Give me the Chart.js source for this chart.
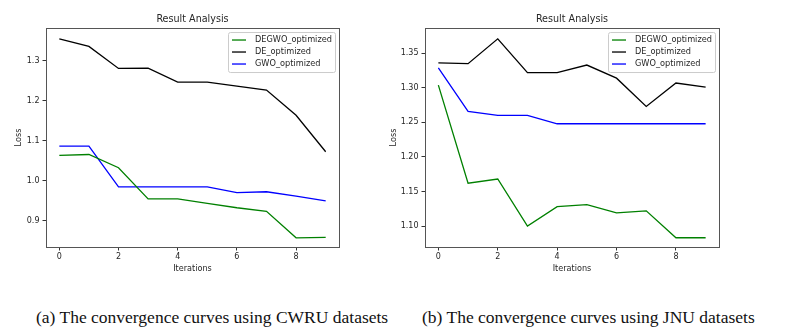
<!DOCTYPE html>
<html>
<head>
<meta charset="utf-8">
<script src="https://cdn.jsdelivr.net/npm/chart.js@4.4.0/dist/chart.umd.min.js"></script>
<style>
  body { margin: 0; background: #fff; width: 792px; height: 336px; position: relative; overflow: hidden; }
  .box { position: absolute; top: 0; height: 280px; }
  .caption { position: absolute; top: 307px; font-family: "Liberation Serif", "Times New Roman", serif; font-size: 17.5px; line-height: 20px; color: #111; white-space: nowrap; }
</style>
</head>
<body>
<div class="box" style="left:0;width:385px"><canvas id="chartA" width="385" height="280"></canvas></div>
<div class="box" style="left:385px;width:407px"><canvas id="chartB" width="407" height="280"></canvas></div>
<div class="caption" style="left:36px">(a) The convergence curves using CWRU datasets</div>
<div class="caption" style="left:422px">(b) The convergence curves using JNU datasets</div>
<script>
// data
const iterations = [0, 1, 2, 3, 4, 5, 6, 7, 8, 9]
const seriesNames = ['DEGWO_optimized', 'DE_optimized', 'GWO_optimized']
const seriesColors = ['#008000', '#000000', '#0000ff']

// (a) CWRU
const cwruDEGWO = [1.064, 1.066, 1.033, 0.955, 0.955, 0.944, 0.933, 0.924, 0.858, 0.859]
const cwruDE = [1.355, 1.336, 1.281, 1.282, 1.247, 1.247, 1.237, 1.227, 1.164, 1.073]
const cwruGWO = [1.087, 1.087, 0.985, 0.985, 0.985, 0.985, 0.971, 0.973, 0.962, 0.950]
const cwruYTicks = [0.9, 1.0, 1.1, 1.2, 1.3]

// (b) JNU
const jnuDEGWO = [1.304, 1.162, 1.168, 1.100, 1.128, 1.131, 1.119, 1.122, 1.083, 1.083]
const jnuDE = [1.336, 1.335, 1.371, 1.322, 1.322, 1.333, 1.314, 1.273, 1.307, 1.301]
const jnuGWO = [1.329, 1.266, 1.260, 1.260, 1.248, 1.248, 1.248, 1.248, 1.248, 1.248]
const jnuYTicks = [1.10, 1.15, 1.20, 1.25, 1.30, 1.35]

const xTicks = [0, 2, 4, 6, 8]

const FONT = "'DejaVu Sans', sans-serif"
const TEXT = '#262626'

// frame round the plot area, like matplotlib spines
const framePlugin = {
    id: 'frame',
    afterDatasetsDraw(chart) {
        const a = chart.chartArea
        const ctx = chart.ctx
        ctx.save()
        ctx.strokeStyle = '#555'
        ctx.lineWidth = 1
        ctx.strokeRect(Math.round(a.left) + 0.5, Math.round(a.top) + 0.5, Math.round(a.right - a.left), Math.round(a.bottom - a.top))
        ctx.restore()
    }
}

// legend drawn inside the plot, top right
const innerLegend = {
    id: 'innerLegend',
    afterDraw(chart) {
        const a = chart.chartArea
        const ctx = chart.ctx
        const w = 107, h = 40
        const x = a.right - 4 - w, y = a.top + 4
        ctx.save()
        ctx.fillStyle = 'rgba(255,255,255,0.85)'
        ctx.strokeStyle = '#ccc'
        ctx.lineWidth = 1
        ctx.beginPath()
        ctx.roundRect(x + 0.5, y + 0.5, w, h, 2)
        ctx.fill()
        ctx.stroke()
        ctx.font = "8.2px " + FONT
        ctx.textBaseline = 'middle'
        chart.data.datasets.forEach((ds, i) => {
            const ry = y + 8 + i * 12
            ctx.strokeStyle = ds.borderColor
            ctx.lineWidth = 1.3
            ctx.beginPath()
            ctx.moveTo(x + 4, ry)
            ctx.lineTo(x + 18, ry)
            ctx.stroke()
            ctx.fillStyle = TEXT
            ctx.fillText(ds.label, x + 27, ry)
        })
        ctx.restore()
    }
}

function makeChart (canvasId, seriesList, yTicks, yMin, yMax, yWidth, yTitlePad, padRight, decimals) {
    const datasets = seriesList.map((values, i) => ({
        label: seriesNames[i],
        data: values.map((v, k) => ({x: iterations[k], y: v})),
        borderColor: seriesColors[i],
        backgroundColor: seriesColors[i],
        borderWidth: 1.3,
        pointRadius: 0,
        tension: 0,
        fill: false
    }))
    new Chart(document.getElementById(canvasId), {
        type: 'line',
        data: {datasets: datasets},
        options: {
            responsive: false,
            animation: false,
            layout: {padding: {left: 0, right: padRight, top: 0, bottom: 0}},
            plugins: {
                legend: {display: false},
                tooltip: {enabled: false},
                title: {
                    display: true,
                    text: 'Result Analysis',
                    fullSize: false,
                    color: TEXT,
                    font: {family: FONT, size: 9.6, weight: 'normal'},
                    padding: {top: 14, bottom: 2.5}
                }
            },
            scales: {
                x: {
                    type: 'linear',
                    min: -0.45,
                    max: 9.45,
                    afterBuildTicks: (scale) => { scale.ticks = xTicks.map(v => ({value: v})) },
                    afterFit: (scale) => { scale.height = 33 },
                    grid: {display: true, drawOnChartArea: false, drawTicks: true, tickLength: 3.5, color: '#333'},
                    border: {display: true, color: '#555'},
                    ticks: {color: TEXT, font: {family: FONT, size: 8}, padding: 2, maxRotation: 0},
                    title: {display: true, text: 'Iterations', color: TEXT, font: {family: FONT, size: 8.1}, padding: {top: 0, bottom: 6}}
                },
                y: {
                    min: yMin,
                    max: yMax,
                    afterBuildTicks: (scale) => { scale.ticks = yTicks.map(v => ({value: v})) },
                    afterFit: (scale) => { scale.width = yWidth },
                    grid: {display: true, drawOnChartArea: false, drawTicks: true, tickLength: 3.5, color: '#333'},
                    border: {display: true, color: '#555'},
                    ticks: {color: TEXT, font: {family: FONT, size: 8}, padding: 3, callback: (v) => v.toFixed(decimals)},
                    title: {display: true, text: 'Loss', color: TEXT, font: {family: FONT, size: 8.1}, padding: {top: yTitlePad, bottom: 0}}
                }
            }
        },
        plugins: [framePlugin, innerLegend]
    })
}

makeChart('chartA', [cwruDEGWO, cwruDE, cwruGWO], cwruYTicks, 0.835, 1.382, 46, 14, 46, 1)
makeChart('chartB', [jnuDEGWO, jnuDE, jnuGWO], jnuYTicks, 1.0696, 1.3866, 40, 4, 73, 2)
</script>
</body>
</html>
